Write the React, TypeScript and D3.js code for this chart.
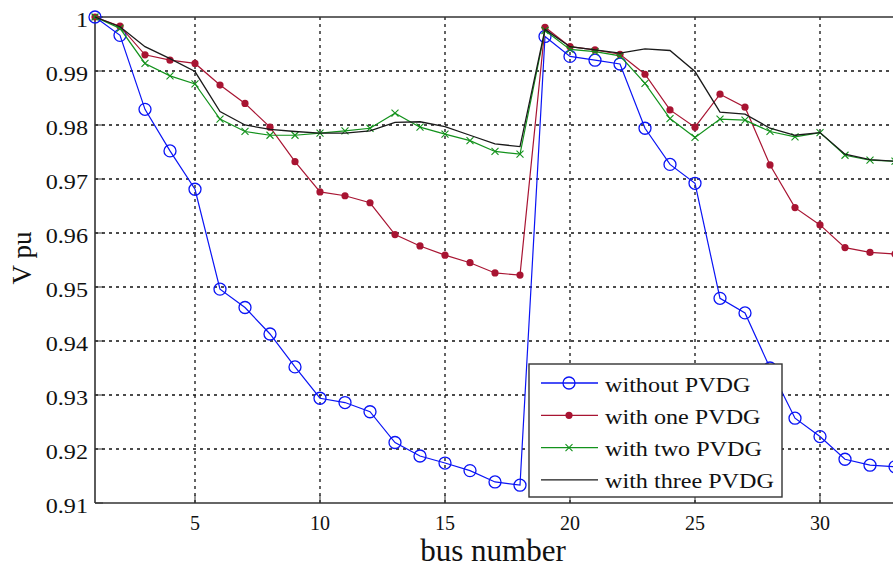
import React from 'react';
import * as d3 from 'd3';

const buses = [1, 2, 3, 4, 5, 6, 7, 8, 9, 10, 11, 12, 13, 14, 15, 16, 17, 18, 19, 20, 21, 22, 23, 24, 25, 26, 27, 28, 29, 30, 31, 32, 33];

const withoutPVDG = [1.0, 0.9966, 0.9829, 0.9752, 0.9681, 0.9496, 0.9462, 0.9413, 0.9352, 0.9294, 0.9286, 0.9269, 0.9212, 0.9187, 0.9174, 0.916, 0.9139, 0.9133, 0.9964, 0.9927, 0.992, 0.9913, 0.9794, 0.9727, 0.9692, 0.9479, 0.9452, 0.935, 0.9257, 0.9223, 0.9181, 0.917, 0.9167];
const withOnePVDG = [1.0, 0.9983, 0.993, 0.992, 0.9914, 0.9874, 0.984, 0.9796, 0.9732, 0.9676, 0.9669, 0.9656, 0.9597, 0.9576, 0.9559, 0.9545, 0.9526, 0.9522, 0.9981, 0.9945, 0.9939, 0.9931, 0.9894, 0.9828, 0.9796, 0.9857, 0.9833, 0.9726, 0.9647, 0.9615, 0.9573, 0.9564, 0.9561];
const withTwoPVDG = [1.0, 0.9979, 0.9914, 0.9891, 0.9876, 0.9811, 0.9788, 0.9781, 0.9781, 0.9785, 0.9789, 0.9794, 0.9822, 0.9796, 0.9783, 0.9771, 0.9751, 0.9746, 0.9975, 0.994, 0.9936, 0.9928, 0.9877, 0.9812, 0.9777, 0.9811, 0.9809, 0.9788, 0.9778, 0.9786, 0.9744, 0.9735, 0.9733];
const withThreePVDG = [1.0, 0.9982, 0.9945, 0.9923, 0.9899, 0.9825, 0.98, 0.9792, 0.9788, 0.9785, 0.9785, 0.9789, 0.9805, 0.9806, 0.9797, 0.9781, 0.9765, 0.976, 0.9977, 0.9945, 0.9939, 0.9933, 0.9941, 0.9938, 0.9899, 0.9824, 0.982, 0.9794, 0.9781, 0.9786, 0.9746, 0.9736, 0.9733];

const xTicks = [5, 10, 15, 20, 25, 30];
const yTicks = [0.91, 0.92, 0.93, 0.94, 0.95, 0.96, 0.97, 0.98, 0.99, 1];
const seriesNames = ['without PVDG', 'with one PVDG', 'with two PVDG', 'with three PVDG'];

const W = 893;
const H = 567;
const left = 95, right = 895, top = 17, bottom = 503;
const font = '"Liberation Serif", "Times New Roman", serif';

const x = d3.scaleLinear().domain([1, 33]).range([left, right]);
const y = d3.scaleLinear().domain([0.91, 1]).range([bottom, top]);

const colors = ['#0a14f5', '#a81432', '#13921c', '#1a1a1a'];
const allSeries = [withoutPVDG, withOnePVDG, withTwoPVDG, withThreePVDG];

const line = d3.line<number>().x((d, i) => x(buses[i])).y(d => y(d));

const Marker = ({ kind, cx, cy, color }: { kind: number; cx: number; cy: number; color: string }) => {
  if (kind === 0) return <circle cx={cx} cy={cy} r={6} fill="none" stroke={color} strokeWidth={1.3} />;
  if (kind === 1) return <circle cx={cx} cy={cy} r={3.6} fill={color} />;
  if (kind === 2) {
    const s = 3.5;
    return <path d={`M${cx - s},${cy - s}L${cx + s},${cy + s}M${cx - s},${cy + s}L${cx + s},${cy - s}`} stroke={color} strokeWidth={1.1} />;
  }
  return null;
};

const SText = ({ x: tx, y: ty, sx = 1, size, anchor = 'middle', children, rotate = 0, base = 'central' }: any) => (
  <text
    transform={`translate(${tx},${ty}) rotate(${rotate}) scale(${sx},1)`}
    fontFamily={font}
    fontSize={size}
    textAnchor={anchor}
    dominantBaseline={base}
    fill="#111"
  >
    {children}
  </text>
);

export default function App() {
  const legX = 529, legY = 364, legW = 253, legH = 133;
  return (
    <svg width={W} height={H} style={{ position: 'absolute', left: 0, top: 0, background: '#fff' }}>
      <defs>
        <clipPath id="plot">
          <rect x={left - 8} y={top - 8} width={right - left + 16} height={bottom - top + 16} />
        </clipPath>
      </defs>
      <rect x={0} y={0} width={W} height={H} fill="#fff" />
      {/* grid */}
      <g stroke="#111" strokeWidth={1.3} strokeDasharray="3,4">
        {xTicks.map(t => <line key={'gx' + t} x1={x(t)} x2={x(t)} y1={top} y2={bottom} />)}
        {yTicks.filter(t => t > 0.91 && t < 1).map(t => <line key={'gy' + t} x1={left} x2={right} y1={y(t)} y2={y(t)} />)}
      </g>
      {/* tick marks */}
      <g stroke="#333" strokeWidth={1}>
        {xTicks.map(t => <line key={'tx' + t} x1={x(t)} x2={x(t)} y1={bottom} y2={bottom - 8} />)}
        {yTicks.map(t => <line key={'ty' + t} x1={left} x2={left + 8} y1={y(t)} y2={y(t)} />)}
      </g>
      {/* frame */}
      <g stroke="#333" strokeWidth={1.6} fill="none">
        <line x1={left} x2={left} y1={top} y2={bottom} />
        <line x1={left} x2={right} y1={bottom} y2={bottom} />
        <line x1={left} x2={right} y1={top} y2={top} />
      </g>
      {/* series */}
      <g clipPath="url(#plot)">
        {allSeries.map((s, k) => (
          <g key={k}>
            <path d={line(s) || ''} fill="none" stroke={colors[k]} strokeWidth={k === 3 ? 1.3 : 1.2} />
            {s.map((v, i) => <Marker key={i} kind={k} cx={x(buses[i])} cy={y(v)} color={colors[k]} />)}
          </g>
        ))}
      </g>
      {/* axis labels */}
      {yTicks.map(t => (
        <SText key={'yl' + t} x={88} y={y(t) + 9.5} size={21} sx={1.15} anchor="end" base="alphabetic">{t === 1 ? '1' : d3.format('.2f')(t)}</SText>
      ))}
      {xTicks.map(t => (
        <SText key={'xl' + t} x={x(t)} y={530} size={20} base="alphabetic">{t}</SText>
      ))}
      <SText x={493} y={561} size={31} base="alphabetic">bus number</SText>
      <SText x={22} y={258} size={27} rotate={-90}>V pu</SText>
      {/* legend */}
      <g>
        <rect x={legX} y={legY} width={legW} height={legH} fill="#fff" stroke="#333" strokeWidth={1.4} />
        {seriesNames.map((n, k) => {
          const ly = legY + 19 + k * 32.3;
          return (
            <g key={n}>
              <line x1={legX + 12} x2={legX + 69} y1={ly} y2={ly} stroke={colors[k]} strokeWidth={1.3} />
              <Marker kind={k} cx={legX + 40} cy={ly} color={colors[k]} />
              <SText x={legX + 76} y={ly + 8.5} size={21} sx={1.15} anchor="start" base="alphabetic">{n}</SText>
            </g>
          );
        })}
      </g>
    </svg>
  );
}
